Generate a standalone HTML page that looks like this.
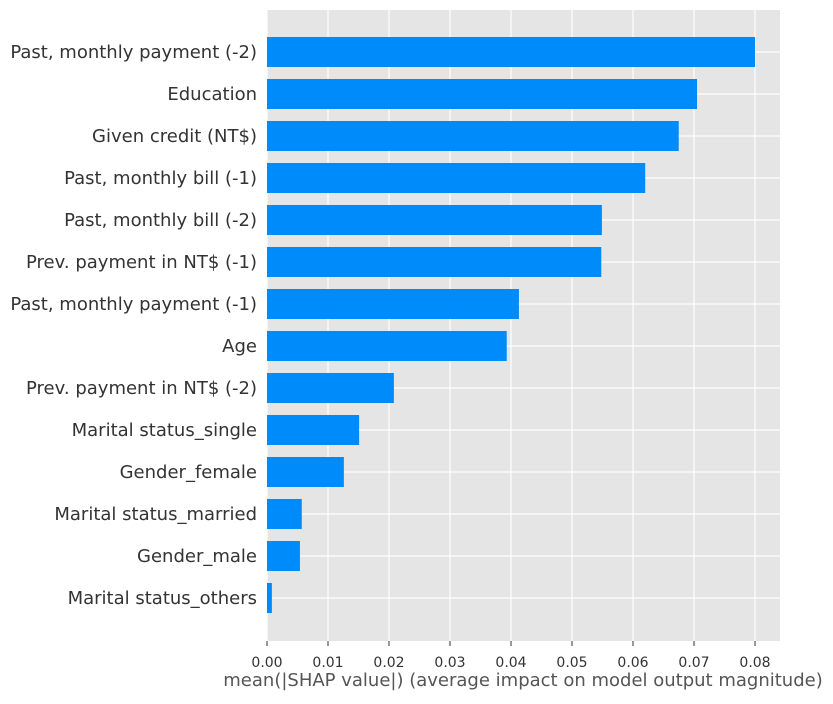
<!DOCTYPE html>
<html><head><meta charset="utf-8"><style>
body{margin:0;background:#fff;font-family:"DejaVu Sans","Liberation Sans",sans-serif}
svg text{font-family:"DejaVu Sans","Liberation Sans",sans-serif}
</style></head><body>
<svg id="chart" width="833" height="700" xmlns="http://www.w3.org/2000/svg">
<rect x="267" y="10" width="513" height="631" fill="#e5e5e5"/>
<g id="grid"></g><g id="bars"></g><g id="ylabels"></g><g id="xticks"></g>
<text x="523" y="686" font-size="18" fill="#555" text-anchor="middle">mean(|SHAP value|) (average impact on model output magnitude)</text>
</svg>
<script>
const categories=["Past, monthly payment (-2)","Education","Given credit (NT$)","Past, monthly bill (-1)","Past, monthly bill (-2)","Prev. payment in NT$ (-1)","Past, monthly payment (-1)","Age","Prev. payment in NT$ (-2)","Marital status_single","Gender_female","Marital status_married","Gender_male","Marital status_others"];
const values=[0.0800,0.0705,0.0675,0.0620,0.0549,0.0548,0.0413,0.0393,0.0208,0.0151,0.0126,0.0057,0.0054,0.0008];
const xTicks=[0,0.01,0.02,0.03,0.04,0.05,0.06,0.07,0.08];
const tickLabels=["0.00","0.01","0.02","0.03","0.04","0.05","0.06","0.07","0.08"];
const NS="http://www.w3.org/2000/svg";
const x=v=>267+v*6100;
const y=i=>52+i*42;
const mk=(t,a,p)=>{const e=document.createElementNS(NS,t);for(const k in a)e.setAttribute(k,a[k]);document.getElementById(p).appendChild(e);return e;};
xTicks.forEach((t,i)=>{
  const g=mk("line",{x1:x(t),x2:x(t),y1:10,y2:641,stroke:"#fff","stroke-width":1.2},"grid");
  
  
  const tk=mk("line",{x1:x(t),x2:x(t),y1:641,y2:646,stroke:"#333","stroke-width":1},"xticks");
  
  
  const tl=mk("text",{x:x(t),y:667,"font-size":14,fill:"#333","text-anchor":"middle"},"xticks");
  tl.textContent=tickLabels[i];
  
  
});
categories.forEach((c,i)=>{
  const g=mk("line",{x1:267,x2:780,y1:y(i),y2:y(i),stroke:"#fff","stroke-width":1.2},"grid");
  
  
  const b=mk("rect",{x:267,y:y(i)-15,width:x(values[i])-267,height:30,fill:"#008bfb"},"bars");
  
  
  const l=mk("text",{x:257,y:y(i)+6,"font-size":18,fill:"#333","text-anchor":"end"},"ylabels");
  l.textContent=c;
  
  
});
</script>
</body></html>
